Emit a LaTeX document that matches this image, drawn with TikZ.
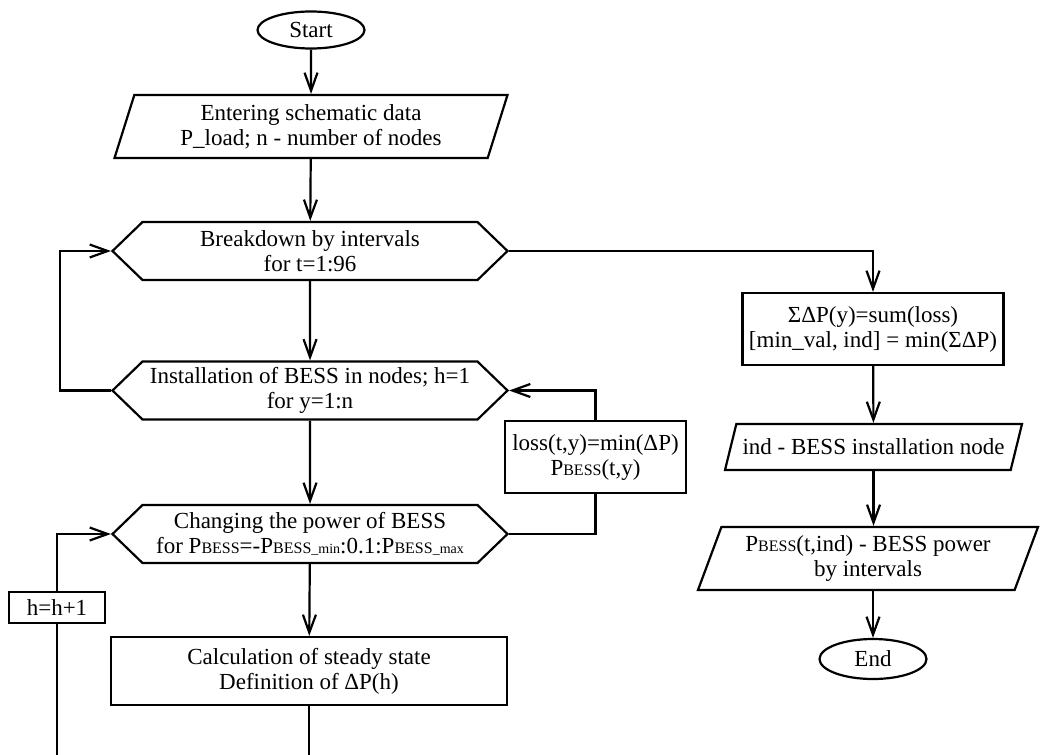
\documentclass[tikz,border=0pt]{standalone}
\usepackage{fontspec}
\setmainfont{Liberation Serif}
\usepackage{tikz}
\usetikzlibrary{arrows.meta,positioning,calc,shapes.geometric,shapes.symbols}

\newcommand{\bess}{{\fontsize{16}{16}\selectfont BESS}}
\newcommand{\lowtxt}[1]{{\fontsize{14}{14}\selectfont #1}}

\begin{document}
\begin{tikzpicture}[x=1pt, y=-1pt, line width=2.2pt,
            font=\fontsize{23}{25}\selectfont,
            every node/.style={draw, align=center, inner sep=0pt},
            term/.style={ellipse, minimum width=107pt, minimum height=37pt},
            io/.style={trapezium, trapezium stretches body, trapezium left angle=#1, trapezium right angle=180-#1},
            loopop/.style={signal, signal to=west and east, signal pointer angle=88,
                           minimum width=395pt, minimum height=58pt},
            proc/.style={rectangle},
            flow/.style={-{Straight Barb[length=18pt, width=13pt]}}]
        \useasboundingbox (0,0) rectangle (1040,754);
        % left column
        \node[term] (start) at (311,30) {Start};
        \node[io=66, minimum width=393pt, minimum height=63pt] (input) at (311,126.5)
            {Entering schematic data\\P\_load; n - number of nodes};
        \node[loopop] (intv) at (310,251) {Breakdown by intervals\\for t=1:96};
        \node[loopop] (inst) at (310,390.5) {Installation of BESS in nodes; h=1\\for y=1:n};
        \node[loopop] (pow) at (310,534)
            {Changing the power of BESS\\for P\bess=-P\bess\lowtxt{\_min}:0.1:P\bess\lowtxt{\_max}};
        \node[proc, minimum width=396pt, minimum height=68pt] (calc) at (309,671)
            {Calculation of steady state\\Definition of ΔP(h)};
        \node[proc, minimum width=96pt, minimum height=31pt] (hinc) at (57,607.5) {h=h+1};
        \node[proc, minimum width=181pt, minimum height=72pt] (loss) at (595.5,457)
            {loss(t,y)=min(ΔP)\\P\bess(t,y)};
        % right column
        \node[proc, minimum width=261pt, minimum height=72pt] (sum) at (873,329)
            {ΣΔP(y)=sum(loss)\\{}[min\_val, ind] = min(ΣΔP)};
        \node[io=55, minimum width=297pt, minimum height=46pt] (ind) at (873.5,447)
            {ind - BESS installation node};
        \node[io=63, minimum width=340pt, minimum height=63pt] (out) at (868,558.5)
            {P\bess(t,ind) - BESS power\\by intervals};
        \node[term, minimum height=40pt] (end) at (873,659) {End};

        \draw[flow] (start) -- (input);
        \draw[flow] (input) -- (intv);
        \draw[flow] (intv.east) -| (sum.north);
        \draw[flow] (intv) -- (inst);
        \draw[flow] (inst.west) -- ++(-51,0) |- (intv.west);
        \draw[flow] (inst) -- (pow);
        \draw (pow.east) -| (loss.south);
        \draw[flow] (loss.north) |- (inst.east);
        \draw[flow] (pow) -- (calc);
        \draw (calc.south) -- ++(0,82) -| (hinc.south);
        \draw[flow] (hinc.north) |- (pow.west);
        \draw[flow] (sum) -- (ind);
        \draw[flow] (ind.south) -- (ind.south |- out.north);
        \draw[flow] (end.north |- out.south) -- (end);
\end{tikzpicture}
\end{document}
